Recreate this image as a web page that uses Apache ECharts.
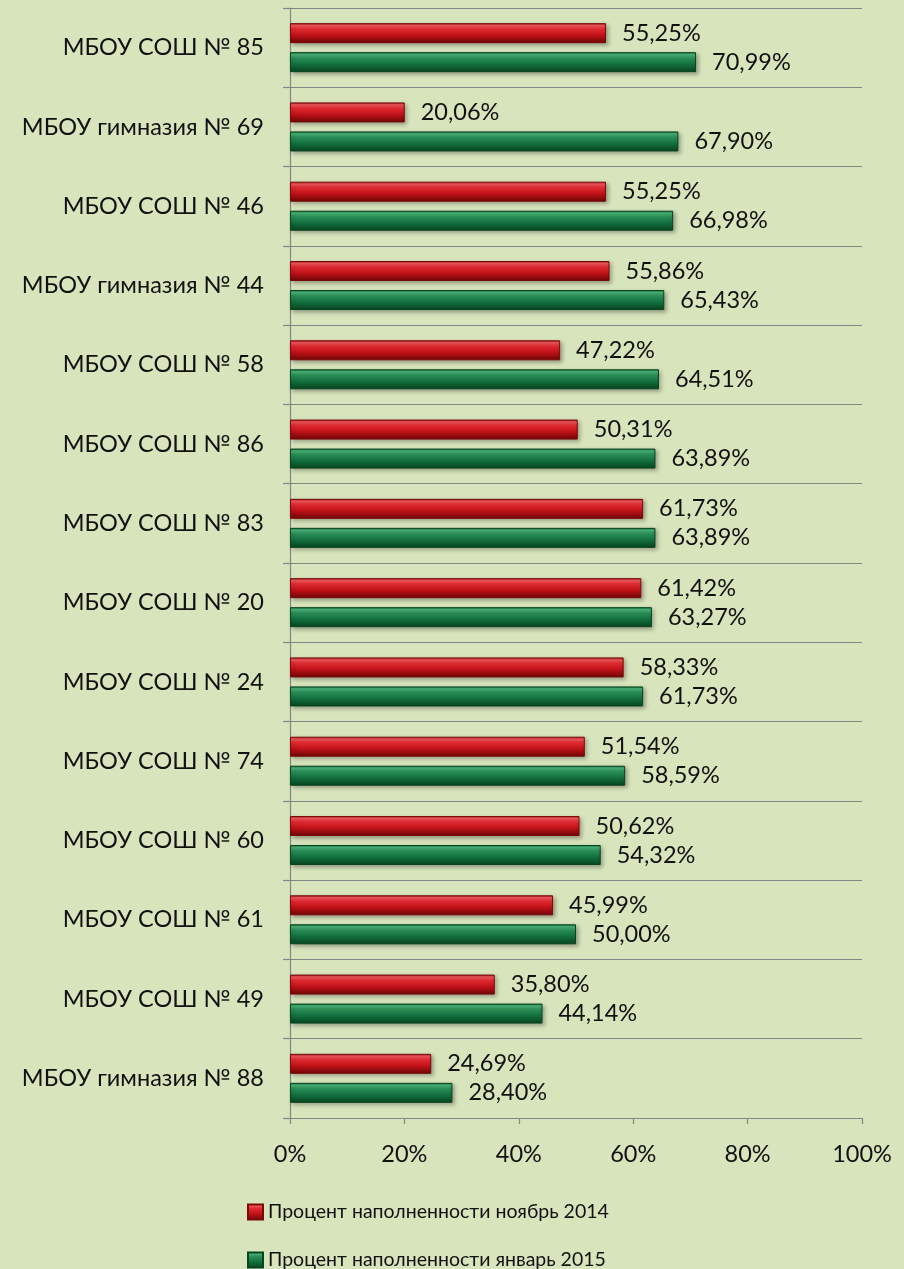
<!DOCTYPE html>
<html>
<head>
<meta charset="utf-8">
<script src="https://cdn.jsdelivr.net/npm/echarts@6/dist/echarts.min.js"></script>
<style>
html,body{margin:0;padding:0;background:#d8e4bc;}
#chart{width:904px;height:1269px;}
</style>
</head>
<body>
<div id="chart"></div>
<script>
const categories = ['МБОУ СОШ № 85','МБОУ гимназия № 69','МБОУ СОШ № 46','МБОУ гимназия № 44','МБОУ СОШ № 58','МБОУ СОШ № 86','МБОУ СОШ № 83','МБОУ СОШ № 20','МБОУ СОШ № 24','МБОУ СОШ № 74','МБОУ СОШ № 60','МБОУ СОШ № 61','МБОУ СОШ № 49','МБОУ гимназия № 88'];
const nov2014 = [55.25,20.06,55.25,55.86,47.22,50.31,61.73,61.42,58.33,51.54,50.62,45.99,35.80,24.69];
const jan2015 = [70.99,67.90,66.98,65.43,64.51,63.89,63.89,63.27,61.73,58.59,54.32,50.00,44.14,28.40];
const seriesNames = ['Процент наполненности ноябрь 2014','Процент наполненности январь 2015'];
const xTicks = [0,20,40,60,80,100];

const FONT = 'Lato, "Open Sans", sans-serif';
const FS = 23.5;
function grad(stops){
  return new echarts.graphic.LinearGradient(0,0,0,1,stops.map(s=>({offset:s[0],color:s[1]})));
}
const redGrad = grad([[0,'#a81216'],[0.12,'#f0585c'],[0.3,'#e02a30'],[0.6,'#c01218'],[1,'#6e0606']]);
const greenGrad = grad([[0,'#0e6a36'],[0.12,'#4cb47a'],[0.3,'#2a8e56'],[0.6,'#137040'],[1,'#08451f']]);
const fmt = p => p.value.toFixed(2).replace('.', ',') + '%';

const chart = echarts.init(document.getElementById('chart'));
const legendText = {fontSize:19.5,lineHeight:24,fontFamily:FONT,color:'#111'};
chart.setOption({
  backgroundColor:'#d8e4bc',
  animation:false,
  textStyle:{fontFamily:FONT},
  grid:{left:290,right:42,top:8,bottom:151,containLabel:false},
  xAxis:{
    type:'value',min:xTicks[0],max:xTicks[xTicks.length-1],interval:20,
    axisLine:{show:true,lineStyle:{color:'#858585',width:1.2}},
    axisTick:{show:true,length:6,lineStyle:{color:'#858585',width:1.2}},
    splitLine:{show:false},
    axisLabel:{formatter:'{value}%',color:'#111',fontSize:FS,fontFamily:FONT,margin:24}
  },
  yAxis:{
    type:'category',inverse:true,data:categories,
    axisLine:{show:true,lineStyle:{color:'#858585',width:1.2}},
    axisTick:{show:true,length:7,lineStyle:{color:'#858585',width:1.2}},
    splitLine:{show:true,lineStyle:{color:'#858585',width:1.2}},
    axisLabel:{color:'#111',fontSize:FS,fontFamily:FONT,margin:26}
  },
  legend:[
    {left:242,top:1195,itemWidth:15,itemHeight:15,itemGap:6,icon:'rect',textStyle:legendText,data:[seriesNames[0]]},
    {left:242,top:1243,itemWidth:15,itemHeight:15,itemGap:6,icon:'rect',textStyle:legendText,data:[seriesNames[1]]}
  ],
  series:[
    {name:seriesNames[0],type:'bar',data:nov2014,barWidth:20,barGap:'45%',
     itemStyle:{color:redGrad,borderColor:'#7a0a0a',borderWidth:1,shadowColor:'rgba(0,0,0,0.3)',shadowBlur:4,shadowOffsetX:2,shadowOffsetY:2},
     label:{show:true,position:'right',distance:16,formatter:fmt,color:'#111',fontSize:FS,fontFamily:FONT}},
    {name:seriesNames[1],type:'bar',data:jan2015,barWidth:20,barGap:'45%',
     itemStyle:{color:greenGrad,borderColor:'#08451f',borderWidth:1,shadowColor:'rgba(0,0,0,0.3)',shadowBlur:4,shadowOffsetX:2,shadowOffsetY:2},
     label:{show:true,position:'right',distance:16,formatter:fmt,color:'#111',fontSize:FS,fontFamily:FONT}}
  ]
});
</script>
</body>
</html>
